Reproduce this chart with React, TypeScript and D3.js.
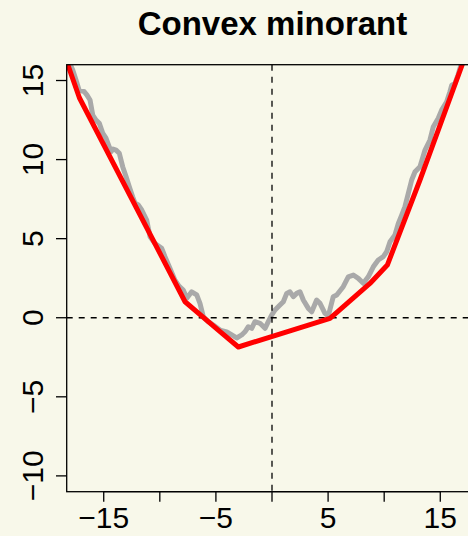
import React, { useRef, useEffect } from 'react';
import { select, scaleLinear, line } from 'd3';

// random walk (grey)
const walkX = [
  -18.1, -17.96, -17.76, -17.47, -17.2, -16.73, -16.49, -16.22, -15.98, -15.69, -15.39, -15.09,
  -14.8, -14.35, -14.17, -13.9, -13.61, -13.31, -13.01, -12.72, -12.42, -12.21, -11.92, -11.61,
  -11.17, -10.87, -10.43, -9.83, -9.54, -9.09, -8.65, -8.29, -7.91, -7.6, -7.16, -6.71, -6.42,
  -6.12, -5.68, -5.23, -4.63, -4.04, -3.59, -3.15, -2.7, -2.41, -2.11, -1.81, -1.52, -1.07,
  -0.62, -0.33, -0.03, 0.27, 0.71, 1.01, 1.31, 1.6, 1.9, 2.2, 2.5, 2.79, 3.24, 3.54, 3.98, 4.28,
  4.72, 5.02, 5.46, 5.77, 6.35, 6.8, 7.25, 7.69, 8.14, 8.58, 9.03, 9.47, 9.92, 10.22, 10.52,
  10.96, 11.26, 11.56, 11.85, 12.15, 12.45, 12.75, 13.19, 13.64, 14.08, 14.38, 14.82, 15.12,
  15.57, 15.86, 16.02, 16.31, 16.58, 16.84, 17.1,
];
const walkY = [
  16.4, 15.98, 15.66, 15.03, 14.4, 14.29, 14.08, 13.77, 12.82, 12.5, 12.29, 11.68, 11.36, 10.5,
  10.67, 10.6, 10.4, 9.55, 8.92, 8.28, 7.65, 7.25, 7.13, 6.81, 6.18, 5.12, 4.7, 4.39, 3.86, 3.12,
  2.38, 2.0, 1.75, 1.23, 1.64, 1.44, 0.91, 0.06, -0.25, -0.46, -0.78, -0.89, -1.09, -1.28, -1.09,
  -0.89, -0.57, -0.67, -0.25, -0.35, -0.67, -0.25, 0.17, 0.49, 0.8, 1.01, 1.54, 1.64, 1.33, 1.54,
  1.64, 1.12, 0.59, 0.38, 1.12, 0.91, 0.28, 0.11, 1.33, 1.44, 1.96, 2.59, 2.7, 2.49, 2.18, 2.59,
  3.22, 3.65, 3.86, 4.17, 4.81, 5.23, 5.97, 6.49, 7.02, 7.87, 8.71, 9.23, 9.55, 10.6, 11.24,
  12.08, 12.61, 13.13, 13.66, 14.29, 14.71, 14.82, 15.35, 15.98, 16.6,
];

// convex minorant vertices (red)
const hullX = [-18.3, -17.17, -7.75, -4.79, -3.0, 5.17, 8.73, 10.28, 13.19, 16.93, 17.3];
const hullY = [16.2, 13.91, 1.01, -0.78, -1.85, -0.04, 2.17, 3.33, 8.71, 15.95, 16.7];

const xTicks = [-15, -10, -5, 0, 5, 10, 15];
const xLabels = ['\u221215', '', '\u22125', '', '5', '', '15'];
const yTicks = [-10, -5, 0, 5, 10, 15];
const yLabels = ['\u221210', '\u22125', '0', '5', '10', '15'];

const W = 468;
const H = 536;

const Chart = () => {
  const svgRef = useRef(null);

  useEffect(() => {
    const svg = select(svgRef.current);
    svg.selectAll('*').remove();

    const left = 66.7, right = 477.3, top = 64.7, bottom = 491.7;
    const x = scaleLinear().domain([-18.3, 18.3]).range([left, right]);
    const y = scaleLinear().domain([-11, 16]).range([bottom, top]);

    svg.append('rect').attr('width', W).attr('height', H).attr('fill', '#f8f8ea');

    svg.append('clipPath').attr('id', 'plotclip')
      .append('rect')
      .attr('x', left).attr('y', top)
      .attr('width', right - left).attr('height', bottom - top);

    const plot = svg.append('g').attr('clip-path', 'url(#plotclip)');

    const walk = walkX.map((v, i) => [v, walkY[i]]);
    const hull = hullX.map((v, i) => [v, hullY[i]]);
    const path = line().x((d) => x(d[0])).y((d) => y(d[1]));

    plot.append('path')
      .attr('d', path(walk))
      .attr('fill', 'none')
      .attr('stroke', '#a9a9a9')
      .attr('stroke-width', 5)
      .attr('stroke-linejoin', 'round');

    // reference lines
    plot.append('line')
      .attr('x1', left).attr('x2', right)
      .attr('y1', y(0)).attr('y2', y(0))
      .attr('stroke', '#000').attr('stroke-width', 1.3)
      .attr('stroke-dasharray', '6,6');
    plot.append('line')
      .attr('x1', x(0)).attr('x2', x(0))
      .attr('y1', top).attr('y2', bottom)
      .attr('stroke', '#000').attr('stroke-width', 1.3)
      .attr('stroke-dasharray', '6,6');

    plot.append('path')
      .attr('d', path(hull))
      .attr('fill', 'none')
      .attr('stroke', '#ff0000')
      .attr('stroke-width', 5)
      .attr('stroke-linejoin', 'round');

    // box
    svg.append('rect')
      .attr('x', left).attr('y', top)
      .attr('width', right - left).attr('height', bottom - top)
      .attr('fill', 'none').attr('stroke', '#000').attr('stroke-width', 1.3);

    const font = '"Liberation Sans", Arial, sans-serif';

    // x axis
    const xa = svg.append('g');
    xa.append('line')
      .attr('x1', x(xTicks[0])).attr('x2', x(xTicks[xTicks.length - 1]))
      .attr('y1', bottom).attr('y2', bottom)
      .attr('stroke', '#000').attr('stroke-width', 1.3);
    xTicks.forEach((t, i) => {
      xa.append('line')
        .attr('x1', x(t)).attr('x2', x(t))
        .attr('y1', bottom).attr('y2', bottom + 10)
        .attr('stroke', '#000').attr('stroke-width', 1.3);
      if (xLabels[i]) {
        xa.append('text')
          .attr('x', x(t)).attr('y', 528)
          .attr('text-anchor', 'middle')
          .attr('font-family', font).attr('font-size', 30)
          .text(xLabels[i]);
      }
    });

    // y axis
    const ya = svg.append('g');
    yTicks.forEach((t, i) => {
      ya.append('line')
        .attr('x1', left - 10.7).attr('x2', left)
        .attr('y1', y(t)).attr('y2', y(t))
        .attr('stroke', '#000').attr('stroke-width', 1.3);
      ya.append('text')
        .attr('transform', `translate(43,${y(t)}) rotate(-90)`)
        .attr('text-anchor', 'middle')
        .attr('font-family', font).attr('font-size', 30)
        .text(yLabels[i]);
    });

    svg.append('text')
      .attr('x', 272.5).attr('y', 35)
      .attr('text-anchor', 'middle')
      .attr('font-family', font).attr('font-size', 33)
      .attr('font-weight', 'bold')
      .text('Convex minorant');
  }, []);

  return <svg ref={svgRef} width={W} height={H} style={{ display: 'block' }}></svg>;
};

export default function App() {
  useEffect(() => {
    document.body.style.margin = '0';
    document.body.style.overflow = 'hidden';
  }, []);
  return <Chart />;
}
